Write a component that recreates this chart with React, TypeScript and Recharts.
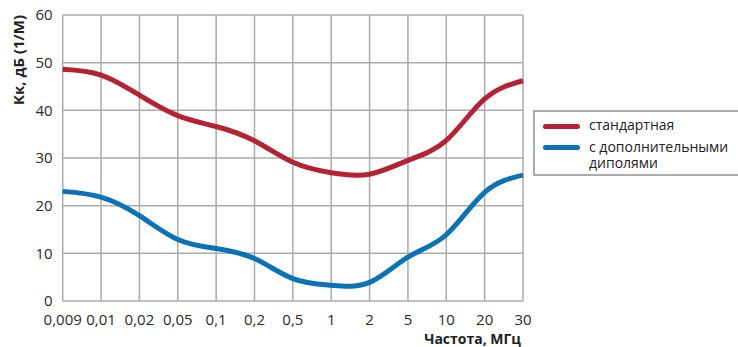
import React from 'react';
import { LineChart, Line, XAxis, YAxis, CartesianGrid, Legend } from 'recharts';

const categories = ['0,009', '0,01', '0,02', '0,05', '0,1', '0,2', '0,5', '1', '2', '5', '10', '20', '30'];
const standard = [48.6, 47.4, 43.2, 38.9, 36.6, 33.6, 29.1, 26.9, 26.6, 29.5, 33.7, 42.4, 46.2];
const dipoles = [23.0, 21.8, 17.9, 12.9, 11.0, 8.9, 4.7, 3.3, 3.9, 9.2, 13.9, 22.8, 26.4];
const yTicks = [0, 10, 20, 30, 40, 50, 60];

const seriesNames = { standard: 'стандартная', dipoles: 'с дополнительными диполями' };
const RED = '#b52233';
const BLUE = '#0a72b5';
const GRID = '#ababab';
const FONT = '"Open Sans", sans-serif';

const data = categories.map((f, i) => ({ f, standard: standard[i], dipoles: dipoles[i] }));

const LegendBox = () => (
  <div
    style={{
      border: `2px solid ${GRID}`,
      borderRight: 'none',
      width: 205,
      height: 62,
      boxSizing: 'content-box',
      fontFamily: FONT,
      fontSize: 14,
      color: '#222',
      position: 'relative',
      textAlign: 'left',
    }}
  >
    <div style={{ position: 'absolute', left: 8, top: 12, width: 37, height: 5, borderRadius: 3, background: RED }} />
    <div style={{ position: 'absolute', left: 54, top: 5, lineHeight: '15px', whiteSpace: 'nowrap' }}>{seriesNames.standard}</div>
    <div style={{ position: 'absolute', left: 8, top: 33, width: 37, height: 5, borderRadius: 3, background: BLUE }} />
    <div style={{ position: 'absolute', left: 54, top: 27, lineHeight: '15px', whiteSpace: 'nowrap' }}>с дополнительными</div>
    <div style={{ position: 'absolute', left: 54, top: 43, lineHeight: '15px', whiteSpace: 'nowrap' }}>диполями</div>
  </div>
);

export default function App() {
  return (
    <div style={{ position: 'absolute', left: 0, top: 0, width: 738, height: 347, background: '#fff', overflow: 'hidden' }}>
      <LineChart
        width={738}
        height={347}
        data={data}
        margin={{ top: 15, right: 215, bottom: 16, left: 0 }}
        style={{ fontFamily: FONT }}
      >
        <CartesianGrid stroke={GRID} strokeWidth={1.5} vertical horizontal />
        <XAxis
          dataKey="f"
          type="category"
          interval={0}
          axisLine={false}
          tickLine={false}
          tickSize={0}
          tickMargin={13}
          height={30}
          tick={{ fill: '#2a2a2a', fontSize: 15, fontFamily: FONT }}
        />
        <YAxis
          domain={[0, 60]}
          ticks={yTicks}
          width={62.7}
          axisLine={false}
          tickLine={false}
          tickSize={0}
          tickMargin={10}
          tick={{ fill: '#2a2a2a', fontSize: 15, fontFamily: FONT }}
        />
        <Legend
          content={<LegendBox />}
          layout="horizontal"
          verticalAlign="middle"
          align="center"
          wrapperStyle={{ position: 'absolute', left: 533, top: 110, width: 207 }}
        />
        <Line
          type="natural"
          dataKey="standard"
          name={seriesNames.standard}
          stroke={RED}
          strokeWidth={5}
          dot={false}
          activeDot={false}
          isAnimationActive={false}
        />
        <Line
          type="natural"
          dataKey="dipoles"
          name={seriesNames.dipoles}
          stroke={BLUE}
          strokeWidth={5}
          dot={false}
          activeDot={false}
          isAnimationActive={false}
        />
        <text
          x={18}
          y={60}
          transform="rotate(-90 18 60)"
          textAnchor="middle"
          dominantBaseline="central"
          fontFamily={FONT}
          fontWeight="bold"
          fontSize={15}
          fill="#222"
        >
          Кк, дБ (1/М)
        </text>
        <text
          x={521}
          y={338}
          textAnchor="end"
          dominantBaseline="central"
          fontFamily={FONT}
          fontWeight="bold"
          fontSize={14}
          fill="#222"
        >
          Частота, МГц
        </text>
      </LineChart>
    </div>
  );
}
